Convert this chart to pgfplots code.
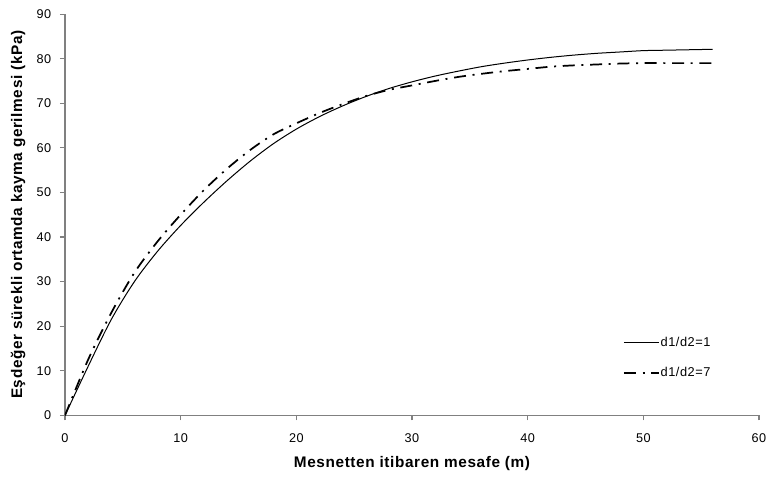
\documentclass[border=0pt]{standalone}
\usepackage{fontspec}
\setmainfont{Liberation Sans}[LetterSpace=4]
\usepackage{pgfplots}
\pgfplotsset{compat=1.18}
\begin{document}
\begin{tikzpicture}
\path[use as bounding box] (-48.75pt,-47.7pt) rectangle (528.75pt,311.55pt);
\begin{axis}[
  scale only axis,
  width=520.5pt, height=301pt,
  xmin=0, xmax=60, ymin=0, ymax=90,
  xtick={0,10,...,60}, ytick={0,10,...,90},
  axis x line*=bottom, axis y line*=left,
  axis line style={draw=gray, line width=0.8pt, -},
  tick style={draw=gray, line width=0.8pt},
  tick align=outside, major tick length=3.75pt,
  tick label style={font=\fontsize{9.5}{10}\selectfont, text=black},
  /pgf/number format/assume math mode=true,
  xticklabel style={yshift=-6.5pt},
  yticklabel style={xshift=-3pt},
  xlabel={\bfseries Mesnetten itibaren mesafe (m)},
  ylabel={\bfseries Eşdeğer sürekli ortamda kayma gerilmesi (kPa)},
  label style={font=\fontsize{11.5}{12}\selectfont},
  xlabel style={at={(axis description cs:0.5,-0.121)}, anchor=center},
  ylabel style={at={(axis description cs:-0.0676,0.5)}, anchor=center},
  legend style={draw=none, fill=none, at={(0.804,0.143)}, anchor=west,
    inner sep=0pt, outer sep=0pt, row sep=12.5pt,
    nodes={inner sep=1pt, font=\fontsize{9.6}{10}\selectfont},
    /tikz/every even column/.append style={column sep=0pt}},
  legend cell align=left,
  legend image code/.code={\draw[#1] (0pt,0pt) -- (26pt,0pt);},
]
\addplot[black, line width=0.75pt, smooth, tension=0.5] coordinates {
(0,0)(2,11)(4,21.5)(6,30)(8,36.8)(10,42.6)(12,47.8)(14,52.6)(16,57)(18,60.9)(20,64.2)
(22,67)(24,69.4)(26,71.5)(28,73.3)(30,74.8)(32,76.1)(34,77.2)(36,78.2)(38,79)(40,79.7)
(42,80.3)(44,80.8)(46,81.2)(48,81.5)(50,81.8)(52,81.9)(54,82)(56,82.1)};
\addlegendentry{d1/d2=1}
\addplot[black, line width=1.3pt, smooth, tension=0.5, dash pattern=on 9pt off 5pt on 1.5pt off 5pt] coordinates {
(0,0)(2,12.5)(4,23)(6,32)(8,39)(10,45)(12,50.5)(14,55.3)(16,59.5)(18,63)(20,65.5)
(22,67.8)(24,69.8)(26,71.6)(28,73)(30,74)(32,75)(34,75.9)(36,76.6)(38,77.2)(40,77.7)
(42,78.2)(44,78.5)(46,78.7)(48,78.9)(50,79)(52,79)(54,79)(56,79)};
\addlegendentry{d1/d2=7}
\end{axis}
\end{tikzpicture}
\end{document}
